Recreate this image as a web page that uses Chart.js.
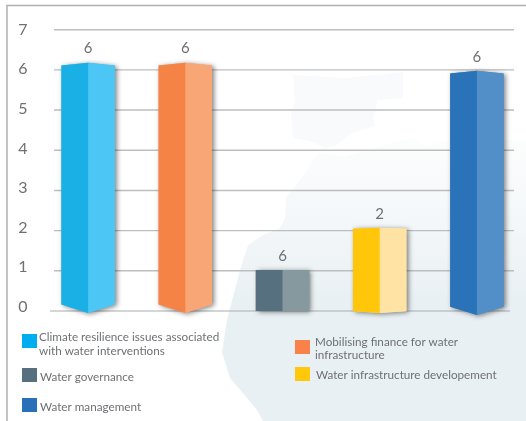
<!DOCTYPE html>
<html><head><meta charset="utf-8">
<style>html,body{margin:0;padding:0;background:#fff}canvas{display:block}</style>
<script src="https://cdn.jsdelivr.net/npm/chart.js@4"></script>
</head><body><canvas id="c" width="526" height="421"></canvas>
<script>
const categories = [
  ['Climate resilience issues associated', 'with water interventions'],
  ['Mobilising finance for water', 'infrastructure'],
  ['Water governance'],
  ['Water infrastructure developement'],
  ['Water management']
];
const barTops = [6.18, 6.18, 1.02, 2.07, 5.98];
const barBottoms = [-0.05, -0.05, 0, -0.05, -0.1];
const shownLabels = ['6', '6', '6', '2', '6'];
const darkFaces = ['#1ab0e6', '#f58345', '#56707f', '#ffc60a', '#2a73b8'];
const lightFaces = ['#4cc6f5', '#f9a676', '#86999f', '#ffe3a4', '#528ec8'];
const swatches = ['#00aeef', '#f9824a', '#56707f', '#ffc80b', '#2a70b8'];
const yTicks = [0, 1, 2, 3, 4, 5, 6, 7];

const FONT = 'Lato, "Open Sans", sans-serif';
const TEXT = '#6e7073';
// legend layout: [swatch x, swatch y, text x, first line centre y, line height]
const legendBoxes = [
  [22, 334, 39, 337, 14], [295, 340, 315, 342, 13], [22, 368, 40, 377, 14],
  [295, 367, 316, 375, 14], [22, 398, 40, 407, 14]
];

function tilts(h) {
  return { top: Math.max(0, (h - 45) / 70), bottom: Math.max(0, (h - 45) / 24) };
}
function facetPath(ctx, x0, x1, outerX, el) {
  const h = el.base - el.y, t = tilts(h);
  const yt = x => x === outerX ? el.y + t.top : el.y;
  const yb = x => x === outerX ? el.base - t.bottom : el.base;
  ctx.beginPath();
  ctx.moveTo(x0, yt(x0));
  ctx.lineTo(x1, yt(x1));
  ctx.lineTo(x1, yb(x1));
  ctx.lineTo(x0, yb(x0));
  ctx.closePath();
}
Chart.BarElement.prototype.draw = function (ctx) {
  const left = this.$context.datasetIndex === 0;
  const x0 = this.x - this.width / 2, x1 = this.x + this.width / 2;
  ctx.save();
  facetPath(ctx, x0, x1, left ? x0 : x1, this);
  ctx.fillStyle = this.options.backgroundColor;
  ctx.fill();
  ctx.restore();
};

function blob(ctx, pts) {
  ctx.beginPath();
  pts.forEach((p, i) => i ? ctx.lineTo(p[0], p[1]) : ctx.moveTo(p[0], p[1]));
  ctx.closePath();
  ctx.fill();
}
const scenery = {
  id: 'scenery',
  beforeDraw(chart) {
    const ctx = chart.ctx;
    ctx.save();
    ctx.fillStyle = '#fff';
    ctx.fillRect(0, 0, 526, 421);
    // faint map behind the chart
    const g = ctx.createLinearGradient(0, 140, 0, 300);
    g.addColorStop(0, '#fcfdfd');
    g.addColorStop(0.45, '#f5f8fa');
    g.addColorStop(1, '#e9f0f3');
    ctx.fillStyle = g;
    blob(ctx, [[263, 421], [257, 410], [230, 378], [222, 352], [227, 320], [240, 270], [248, 245],
      [263, 235], [280, 228], [285, 218], [286, 197], [303, 176], [318, 153], [345, 156], [368, 150],
      [390, 143], [412, 138], [425, 146], [445, 141], [526, 140], [526, 421]]);
    ctx.fillStyle = '#f8fafb';
    blob(ctx, [[293, 75], [345, 78], [403, 72], [403, 98], [378, 100], [373, 118], [375, 126], [350, 134],
      [335, 146], [325, 148], [310, 141], [293, 138], [291, 115], [295, 100]]);
    // frame
    ctx.strokeStyle = '#b0b0b2';
    ctx.lineWidth = 1.5;
    ctx.beginPath();
    ctx.moveTo(7, 421); ctx.lineTo(7, 5.5); ctx.lineTo(526, 5.5);
    ctx.stroke();
    ctx.restore();
  },
  beforeDatasetsDraw(chart) {
    const ctx = chart.ctx, y = chart.scales.y;
    ctx.save();
    yTicks.forEach(v => {
      const p = y.getPixelForValue(v);
      ctx.strokeStyle = v === 0 ? '#a9abae' : '#bdbec0';
      ctx.lineWidth = v === 0 ? 1 : 1.4;
      ctx.beginPath();
      ctx.moveTo(v === 0 ? 50 : 54, p);
      ctx.lineTo(v === 0 ? 510 : 514, p);
      ctx.stroke();
    });
    // soft shadow thrown by each whole bar
    const L = chart.getDatasetMeta(0).data, R = chart.getDatasetMeta(1).data;
    L.forEach((el, i) => {
      const r = R[i], x0 = el.x - el.width / 2, x1 = r.x + r.width / 2, xm = el.x + el.width / 2;
      ctx.save();
      ctx.shadowColor = 'rgba(0,0,0,0.5)';
      ctx.shadowBlur = 5;
      ctx.shadowOffsetX = 2;
      ctx.shadowOffsetY = 1;
      ctx.fillStyle = lightFaces[i];
      const t = tilts(el.base - el.y);
      ctx.beginPath();
      ctx.moveTo(x0, el.y + t.top); ctx.lineTo(xm, el.y); ctx.lineTo(x1, el.y + t.top);
      ctx.lineTo(x1, el.base - t.bottom); ctx.lineTo(xm, el.base); ctx.lineTo(x0, el.base - t.bottom);
      ctx.closePath();
      ctx.fill();
      ctx.restore();
    });
    ctx.restore();
  },
  afterDatasetsDraw(chart) {
    const ctx = chart.ctx, L = chart.getDatasetMeta(0).data;
    ctx.save();
    ctx.fillStyle = TEXT;
    ctx.textAlign = 'center';
    ctx.textBaseline = 'middle';
    ctx.font = '15px ' + FONT;
    L.forEach((el, i) => ctx.fillText(shownLabels[i], el.x + el.width / 2, el.y - 14));
    // legend
    ctx.font = '11.7px ' + FONT;
    ctx.textAlign = 'left';
    categories.forEach((lines, i) => {
      const b = legendBoxes[i];
      ctx.fillStyle = swatches[i];
      ctx.fillRect(b[0], b[1], 15, 14);
      ctx.fillStyle = TEXT;
      lines.forEach((s, k) => ctx.fillText(s, b[2], b[3] + k * b[4]));
    });
    ctx.restore();
  }
};

new Chart(document.getElementById('c'), {
  type: 'bar',
  data: {
    labels: categories,
    datasets: [
      { data: barTops.map((t, i) => [barBottoms[i], t]), backgroundColor: darkFaces, clip: false,
        categoryPercentage: 0.55, barPercentage: 1, yAxisID: 'y' },
      { data: barTops.map((t, i) => [barBottoms[i], t]), backgroundColor: lightFaces, clip: false,
        categoryPercentage: 0.55, barPercentage: 1, yAxisID: 'y' }
    ]
  },
  plugins: [scenery],
  options: {
    responsive: false,
    animation: false,
    layout: { padding: { left: 0, right: 0.5, top: 29.7, bottom: 110 } },
    plugins: { legend: { display: false }, tooltip: { enabled: false } },
    scales: {
      x: { display: false },
      y: { min: 0, max: 7, display: false },
      // the printed tick labels run on a slightly tighter spacing than the gridlines
      yLabels: {
        axis: 'y', position: 'left',
        min: -0.109, max: 7,
        afterBuildTicks(s) { s.ticks = yTicks.map(value => ({ value })); },
        afterFit(s) { s.width = 39.5; },
        grid: { display: false, drawTicks: false },
        border: { display: false },
        ticks: { padding: 12, color: TEXT, font: { family: FONT, size: 16 } }
      }
    }
  }
});
</script></body></html>
